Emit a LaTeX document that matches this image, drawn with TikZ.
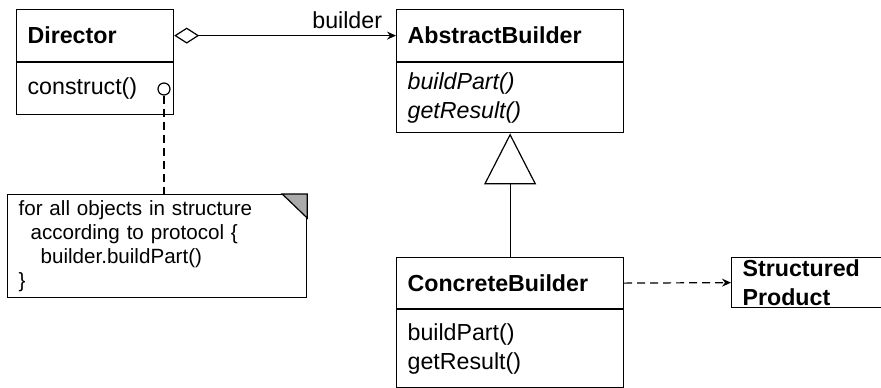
\documentclass[tikz,border=0pt]{standalone}
\usepackage{fontspec}
\setmainfont{Liberation Sans}
\usetikzlibrary{arrows.meta}
\begin{document}
\begin{tikzpicture}[x=0.5pt,y=-0.5pt,line width=0.6pt,
    head/.style={draw,anchor=north west,inner xsep=5.5pt,inner ysep=0pt,align=left,
      font=\fontsize{11.6}{14.5}\selectfont\bfseries},
    ops/.style={head,font=\fontsize{11.6}{14.5}\selectfont},
    tip/.style={-{Stealth[length=4.5pt,width=4pt,inset=1.5pt]}},
    dashes/.style={dash pattern=on 4pt off 2.5pt}]
        \useasboundingbox (0,0) rectangle (881,387);

        % classes
        \node[head,text width=67.5pt,minimum height=26pt] (dir) at (16,9) {Director};
        \node[ops,text width=67.5pt,minimum height=26pt] (dirops) at (dir.south west) {construct()};
        \node[head,text width=102.5pt,minimum height=26pt] (ab) at (396,9) {AbstractBuilder};
        \node[ops,text width=102.5pt,minimum height=35pt] (abops) at (ab.south west) {\itshape buildPart()\\\itshape getResult()};
        \node[head,text width=102.5pt,minimum height=25.5pt] (cb) at (396,257) {ConcreteBuilder};
        \node[ops,text width=102.5pt,minimum height=39pt] (cbops) at (cb.south west) {buildPart()\\getResult()};
        \node[head,text width=80pt,minimum height=25pt] (sp) at (731,257) {Structured\\Product};

        % note
        \node[circle,draw,inner sep=0pt,minimum size=6pt] (hook) at (164,89) {};
        \node[draw,anchor=north west,inner xsep=5.5pt,inner ysep=0pt,align=left,
          text width=138.5pt,minimum height=51.5pt,
          font=\fontsize{10.3}{12}\selectfont] (note) at (7,194)
          {for all objects in structure\\\hspace*{6pt}according to protocol \{\\\hspace*{11pt}builder.buildPart()\\\}};
        \filldraw[fill=black!33] ([xshift=-12.5pt]note.north east) -- (note.north east)
          -- ([yshift=-12pt]note.north east) -- cycle;

        \path[draw,{Diamond[open,length=12.5pt,width=8pt]}-{Stealth[length=4.5pt,width=4pt,inset=1.5pt]}]
          (dir.east) -- node[pos=0.78,above,font=\fontsize{11.6}{14.5}\selectfont] {builder} (ab.west);
        \path[draw,-{Triangle[open,length=25.5pt,width=26pt]}] (cb.north) -- (abops.south);
        \path[draw,dashes,tip] (cb.east) -- (sp.west);
        \path[draw,dashes] (hook.south) -- (hook.south |- note.north);
    \end{tikzpicture}
\end{document}
